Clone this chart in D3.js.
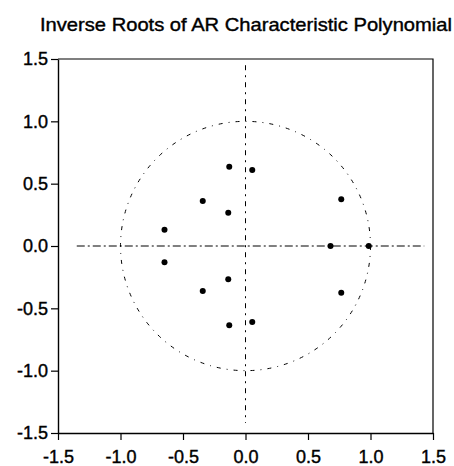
<!DOCTYPE html>
<html>
    <head>
        <meta charset="utf-8">
        <title>Inverse Roots of AR Characteristic Polynomial</title>
        <script src="https://d3js.org/d3.v7.min.js"></script>
        <style>
            body { margin: 0; background: #fff; }
        </style>
    </head>
    <body>
        <svg width="454" height="466" id="mainSvg"></svg>
        <script>
            const rootRe = [-0.13, -0.13, 0.054, 0.054, -0.342, -0.342, -0.138, -0.138, -0.648, -0.648, 0.766, 0.766, 0.68, 0.986]
            const rootIm = [0.635, -0.635, 0.61, -0.61, 0.36, -0.36, 0.267, -0.267, 0.13, -0.13, 0.374, -0.374, 0, 0]
            const tickValues = [-1.5, -1.0, -0.5, 0.0, 0.5, 1.0, 1.5]
            const title = "Inverse Roots of AR Characteristic Polynomial"

            const roots = rootRe.map((re, i) => ({re: re, im: rootIm[i]}))

            const svg = d3.select("#mainSvg")
            const margin = {top: 59, right: 21, bottom: 33, left: 58}
            const width = +svg.attr("width")
            const height = +svg.attr("height")

            const xScale = d3.scaleLinear().domain([-1.5, 1.5]).range([margin.left, width - margin.right])
            const yScale = d3.scaleLinear().domain([-1.5, 1.5]).range([height - margin.bottom, margin.top])

            // title (runs to the right edge, as in the original)
            svg.append("text")
                .text(title)
                .attr("x", 40)
                .attr("y", 31)
                .attr("font-family", "Liberation Sans, Arial, sans-serif")
                .attr("font-size", 19)
                .attr("textLength", 412)
                .attr("lengthAdjust", "spacingAndGlyphs")
                .attr("fill", "#000")
                .attr("stroke", "#000")
                .attr("stroke-width", 0.4)

            // frame (top and right)
            svg.append("path")
                .attr("d", `M${xScale(-1.5)},${yScale(1.5)}H${xScale(1.5)}V${yScale(-1.5)}`)
                .attr("fill", "none")
                .attr("stroke", "#000")
                .attr("stroke-width", 1.2)

            // axes
            const fmt = d => d.toFixed(1)
            const xAxis = d3.axisBottom(xScale).tickValues(tickValues).tickFormat(fmt)
                .tickSize(7).tickSizeOuter(0).tickPadding(10)
            const yAxis = d3.axisLeft(yScale).tickValues(tickValues).tickFormat(fmt)
                .tickSize(7).tickSizeOuter(0).tickPadding(3)

            svg.append("g").attr("transform", `translate(0,${yScale(-1.5)})`).call(xAxis)
            svg.append("g").attr("transform", `translate(${xScale(-1.5)},0)`).call(yAxis)

            svg.selectAll(".domain").attr("stroke-width", 1.4)
            svg.selectAll(".tick line").attr("stroke-width", 1.2)
            svg.selectAll(".tick text")
                .attr("font-family", "Liberation Sans, Arial, sans-serif")
                .attr("font-size", 18)
                .attr("fill", "#000")
                .attr("stroke", "#000")
                .attr("stroke-width", 0.4)

            // zero lines
            svg.append("line")
                .attr("x1", xScale(-1.35)).attr("x2", xScale(1.43))
                .attr("y1", yScale(0)).attr("y2", yScale(0))
                .attr("stroke", "#000")
                .attr("stroke-width", 1)
                .attr("stroke-dasharray", "8,3,2,3")

            svg.append("line")
                .attr("x1", xScale(0)).attr("x2", xScale(0))
                .attr("y1", yScale(1.45)).attr("y2", yScale(-1.42))
                .attr("stroke", "#000")
                .attr("stroke-width", 1)
                .attr("stroke-dasharray", "5,5,2,5")

            // unit circle
            svg.append("ellipse")
                .attr("cx", xScale(0))
                .attr("cy", yScale(0))
                .attr("rx", xScale(1) - xScale(0))
                .attr("ry", yScale(0) - yScale(1))
                .attr("fill", "none")
                .attr("stroke", "#000")
                .attr("stroke-width", 1)
                .attr("stroke-dasharray", "4,6,1,6")

            // roots
            svg.selectAll(".root").data(roots).enter().append("circle")
                .attr("class", "root")
                .attr("cx", d => xScale(d.re))
                .attr("cy", d => yScale(d.im))
                .attr("r", 3)
                .attr("fill", "#000")
        </script>
    </body>
</html>
